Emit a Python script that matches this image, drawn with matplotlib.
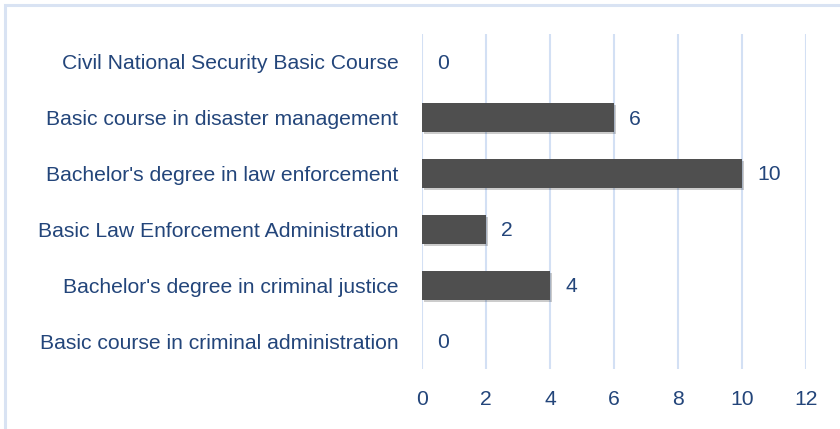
import matplotlib.pyplot as plt
import matplotlib.patheffects as pe
from matplotlib.patches import Rectangle

courses = [
    "Basic course in criminal administration",
    "Bachelor's degree in criminal justice",
    "Basic Law Enforcement Administration",
    "Bachelor's degree in law enforcement",
    "Basic course in disaster management",
    "Civil National Security Basic Course",
]
counts = [0, 4, 2, 10, 6, 0]
xticks = [0, 2, 4, 6, 8, 10, 12]

text_col = "#23457A"
grid_col = "#D3E0F4"

plt.rcParams['font.family'] = ['Liberation Sans', 'DejaVu Sans']

fig = plt.figure(figsize=(8.4, 4.29), dpi=100)
ax = fig.add_axes([422 / 840, 1 - 369 / 429, (806 - 422) / 840, (369 - 34) / 429])

# chart border (runs off the right and bottom edges)
fig.patches.append(Rectangle((5 / 840, -0.1), 1.1, 1 - 5 / 429 + 0.1,
                             transform=fig.transFigure, fill=False,
                             edgecolor="#D9E3F3", linewidth=2.2))

ypos = range(len(courses))
bars = ax.barh(ypos, counts, height=0.52, color="#4F4F4F", zorder=3)
for b in bars:
    b.set_path_effects([pe.SimplePatchShadow(offset=(1.5, -1.5), shadow_rgbFace="#000000", alpha=0.2),
                        pe.Normal()])

for y, v in zip(ypos, counts):
    ax.annotate(str(v), (v, y), xytext=(11, -1), textcoords="offset points",
                va="center", ha="left", fontsize=15.2, color=text_col)

ax.set_xlim(0, 12)
ax.set_ylim(-0.5, len(courses) - 0.5)
ax.set_xticks(xticks)
ax.set_yticks(list(ypos))
ax.set_yticklabels(courses)
ax.tick_params(axis="both", length=0, labelsize=15.2, labelcolor=text_col)
ax.tick_params(axis="y", pad=17)
ax.tick_params(axis="x", pad=15)
ax.grid(axis="x", color=grid_col, linewidth=1.5, zorder=0)
ax.set_axisbelow(True)
for s in ax.spines.values():
    s.set_visible(False)

fig.savefig("out.png", dpi=100)
